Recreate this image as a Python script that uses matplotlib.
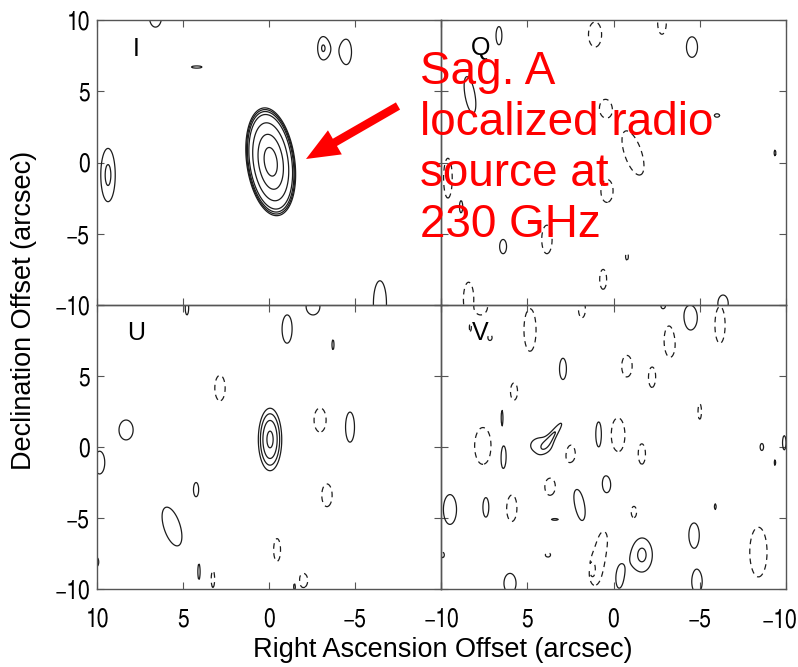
import numpy as np
import matplotlib
matplotlib.use("Agg")
import matplotlib.pyplot as plt

plt.rcParams['font.family'] = ['Liberation Sans', 'DejaVu Sans']
plt.rcParams['lines.dashed_pattern'] = (4.5, 3.5)
TICK_FAMILY = ['TeX Gyre Heros Cn', 'Liberation Sans', 'DejaVu Sans']

# ---- data -------------------------------------------------------------
tick_values = [-10, -5, 0, 5, 10]
panel_names = ["I", "Q", "U", "V"]

# contour levels (in units of the lowest contour)
I_levels = [-1, 1, 1.15, 1.35, 1.7, 3, 5.5, 8.5]
Q_levels = [-1, 1]
U_levels = [-1, 1, 1.5, 2.2, 3.2]
V_levels = [-1, 1, 1.6]

# sources: (RA offset, Dec offset, half-width RA, half-width Dec at lowest contour, peak, tilt deg)
I_sources = [
    (-0.1, 0.05, 1.4, 3.8, 10.0, 6),
    (9.36, -0.88, 0.42, 1.87, 1.18, 0),
    (6.6, 10.2, 0.35, 0.7, 1.1, 0),
    (4.2, 6.7, 0.3, 0.08, 1.1, 0),
    (-3.08, 8.03, 0.23, 0.64, 1.1, 0),
    (-4.53, 7.75, 0.26, 0.8, 1.1, 0),
    (-6.45, -9.9, 0.38, 1.6, 1.1, 0),
]
Q_sources = [
    (6.64, 8.9, 0.17, 0.64, 1.4, 0),
    (1.07, 8.98, 0.38, 0.88, -1.4, 0),
    (-2.81, 9.8, 0.25, 0.8, -1.4, 0),
    (-4.55, 8.1, 0.32, 0.72, 1.4, 0),
    (8.32, 4.74, 0.29, 1.3, 1.4, 8),
    (0.49, 3.8, 0.3, 0.55, -1.4, 0),
    (-6.0, 3.3, 0.15, 0.12, 1.3, 0),
    (-1.13, 0.67, 0.5, 1.6, -1.4, 15),
    (-9.36, 0.67, 0.05, 0.2, 1.3, 0),
    (9.6, -1.1, 0.25, 1.4, -1.4, 0),
    (0.38, -2.0, 0.35, 0.8, -1.4, 0),
    (8.84, -3.1, 0.1, 0.45, 1.4, 0),
    (3.86, -5.4, 0.3, 1.0, -1.4, 0),
    (6.4, -5.9, 0.2, 0.5, 1.4, 0),
    (-0.78, -6.6, 0.08, 0.25, -1.4, 0),
    (0.6, -8.2, 0.2, 0.7, -1.4, 0),
    (8.4, -9.6, 0.3, 1.2, -1.4, 0),
    (-6.35, -9.9, 0.3, 0.6, 1.4, 0),
]
U_sources = [
    (-0.06, 0.53, 0.68, 2.2, 3.5, 0),
    (-1.05, 8.3, 0.29, 0.99, 1.4, 0),
    (-3.72, 7.2, 0.06, 0.35, 1.4, 0),
    (2.85, 4.15, 0.3, 0.9, -1.4, 0),
    (8.31, 1.2, 0.41, 0.7, 1.4, 0),
    (-2.97, 1.9, 0.35, 0.85, -1.4, 0),
    (-4.71, 1.4, 0.26, 1.06, 1.4, 0),
    (9.85, -1.1, 0.3, 0.8, 1.4, 0),
    (4.24, -3.0, 0.15, 0.5, 1.4, 0),
    (-3.37, -3.4, 0.3, 0.8, -1.4, 0),
    (5.64, -5.6, 0.48, 1.4, 1.4, 14),
    (-0.47, -7.25, 0.2, 0.8, -1.4, 0),
    (10.0, -8.1, 0.1, 0.3, 1.4, 0),
    (4.07, -8.8, 0.06, 0.5, 1.4, 0),
    (3.26, -9.3, 0.1, 0.6, -1.4, 0),
    (-2.0, -9.4, 0.25, 0.5, -1.4, 0),
    (-1.5, -9.8, 0.1, 0.4, 1.4, 0),
    (4.77, 9.8, 0.1, 0.5, 1.4, 0),
    (-2.56, 9.9, 0.4, 0.6, 1.4, 0),
]
V_sources = [
    (7.7, 9.9, 0.4, 0.6, -1.4, 0),
    (8.3, 8.4, 0.05, 0.25, -1.4, 0),
    (7.16, 7.7, 0.12, 0.2, -1.4, 0),
    (4.84, 8.24, 0.35, 1.5, -1.4, 0),
    (1.83, 9.7, 0.2, 0.6, -1.4, 0),
    (-2.9, 9.9, 0.2, 0.3, 1.4, 0),
    (-4.43, 9.1, 0.43, 0.9, 1.4, 0),
    (-6.17, 8.6, 0.3, 1.3, -1.4, 0),
    (-3.28, 7.5, 0.35, 1.2, -1.4, 0),
    (2.93, 5.5, 0.2, 0.75, 1.4, 0),
    (-0.78, 5.7, 0.3, 0.75, -1.4, 0),
    (-2.23, 4.9, 0.2, 0.7, -1.4, 0),
    (5.77, 3.9, 0.2, 0.6, -1.4, 0),
    (6.46, 2.1, 0.05, 0.5, 1.4, 0),
    (-5.0, 2.5, 0.1, 0.55, -1.4, 0),
    (7.57, 0.07, 0.48, 1.3, -1.4, 0),
    (6.4, -0.7, 0.2, 1.05, 1.4, 0),
    (4.2, 0.1, 0.6, 0.55, 1.4, 0),
    (3.35, 1.1, 0.15, 0.7, 1.4, -30),
    (2.52, -0.56, 0.35, 0.85, -1.4, 0),
    (0.84, 0.9, 0.2, 1.0, 1.4, 0),
    (-0.26, 0.85, 0.4, 1.2, -1.4, 0),
    (-1.65, -0.5, 0.2, 0.7, -1.4, 0),
    (-8.6, 0.0, 0.1, 0.25, 1.4, 0),
    (-9.36, -1.1, 0.04, 0.2, 1.4, 0),
    (-9.9, 0.3, 0.1, 0.5, 1.4, 0),
    (3.68, -2.8, 0.3, 0.6, -1.4, 0),
    (0.38, -2.7, 0.32, 0.85, 1.4, 0),
    (9.48, -4.4, 0.38, 1.05, 1.4, 0),
    (7.4, -4.2, 0.18, 0.75, 1.4, 0),
    (5.9, -4.3, 0.3, 0.95, -1.4, 0),
    (3.4, -5.1, 0.2, 0.06, 1.4, 0),
    (1.94, -4.15, 0.3, 1.3, 1.4, 10),
    (-1.19, -4.6, 0.15, 0.4, -1.4, 0),
    (-5.9, -4.2, 0.05, 0.2, 1.4, 0),
    (-4.67, -6.2, 0.3, 0.85, 1.4, 0),
    (-8.4, -7.4, 0.5, 1.75, -1.4, 0),
    (0.8, -7.8, 0.58, 2.0, -1.4, -8),
    (-1.65, -7.6, 0.6, 1.2, 1.75, 0),
    (1.94, -8.3, 0.1, 0.85, 1.4, 0),
    (1.19, -8.6, 0.06, 0.2, 1.4, 0),
    (-0.26, -9.0, 0.35, 1.2, 1.4, 0),
    (-4.84, -9.5, 0.3, 0.8, 1.4, 0),
    (3.8, -7.6, 0.15, 0.15, -1.4, 0),
    (9.9, -7.6, 0.1, 0.2, -1.4, 0),
    (6.0, -9.6, 0.35, 0.7, 1.4, 0),
]

annotation_text = "Sag. A\nlocalized radio\nsource at\n230 GHz"
x_label = "Right Ascension Offset (arcsec)"
y_label = "Declination Offset (arcsec)"

# ---- model field --------------------------------------------------------
grid = np.linspace(-10.5, 10.5, 421)
X, Y = np.meshgrid(grid, grid)


def field(sources):
    Z = np.zeros_like(X)
    for x0, y0, rx, ry, pk, ang in sources:
        k = np.sqrt(2 * np.log(abs(pk)))
        sx, sy = rx / k, ry / k
        t = np.deg2rad(ang)
        dx, dy = X - x0, Y - y0
        xr = dx * np.cos(t) - dy * np.sin(t)
        yr = dx * np.sin(t) + dy * np.cos(t)
        Z += pk * np.exp(-0.5 * ((xr / sx) ** 2 + (yr / sy) ** 2))
    return Z


panels = {
    "I": (I_sources, I_levels),
    "Q": (Q_sources, Q_levels),
    "U": (U_sources, U_levels),
    "V": (V_sources, V_levels),
}

# ---- figure ---------------------------------------------------------------
W, H = 798, 667
fig = plt.figure(figsize=(W / 100, H / 100), dpi=100)

left, mid_x, right = 97, 441, 786
top, mid_y, bottom = 20, 305, 589
boxes = {
    "I": (left, top, mid_x, mid_y),
    "Q": (mid_x, top, right, mid_y),
    "U": (left, mid_y, mid_x, bottom),
    "V": (mid_x, mid_y, right, bottom),
}

line_col = "#1c1c1c"
spine_col = "#555555"
tick_fs = 18.5

for name in panel_names:
    x0, y0, x1, y1 = boxes[name]
    ax = fig.add_axes([x0 / W, 1 - y1 / H, (x1 - x0) / W, (y1 - y0) / H])
    src, lev = panels[name]
    Z = field(src)
    neg = [l for l in lev if l < 0]
    pos = [l for l in lev if l > 0]
    ax.contour(X, Y, Z, levels=neg, colors=line_col, linewidths=0.9, linestyles="dashed")
    ax.contour(X, Y, Z, levels=pos, colors=line_col, linewidths=0.9, linestyles="solid")
    ax.set_xlim(10, -10)
    ax.set_ylim(-10, 10)
    ax.set_xticks(tick_values)
    ax.set_yticks(tick_values)
    ax.tick_params(direction="in", length=5, width=0.8, color=spine_col,
                   top=True, right=True)
    ax.tick_params(axis="x", pad=13)
    ax.tick_params(axis="y", pad=5)
    for s in ax.spines.values():
        s.set_color(spine_col)
        s.set_linewidth(1.0)
    lbls = ["\u2212" + str(-v) if v < 0 else str(v) for v in tick_values]
    if name in ("I", "U"):
        yl = list(lbls)
        if name == "U":
            yl[-1] = ""
        ax.set_yticklabels(yl, family=TICK_FAMILY, fontsize=tick_fs)
    else:
        ax.set_yticklabels([])
    if name in ("U", "V"):
        xl = list(lbls)
        if name == "V":
            xl[-1] = ""
            # the right-most label sits flush with the figure edge
            xl[0] = ""
            fig.text(797 / W, 1 - 627.5 / H, lbls[0], ha="right", va="baseline",
                     family=TICK_FAMILY, fontsize=tick_fs)
        ax.set_xticklabels(xl, family=TICK_FAMILY, fontsize=tick_fs)
    else:
        ax.set_xticklabels([])
    ax.text(7.7, 8.0, name, ha="center", va="center", fontsize=18, color="black")
    ax.set_facecolor("none")

fig.text(443 / W, 1 - 650 / H, x_label, ha="center", va="center", fontsize=19.5)
fig.text(24 / W, 1 - 310 / H, y_label, ha="center", va="center", rotation=90, fontsize=19.5)

fig.text(420 / W, 1 - 237 / H, annotation_text, ha="left", va="baseline",
         fontsize=33, color="#ff0000", linespacing=1.21, zorder=10)

fig.add_artist(plt.Annotation("", xy=(306, H - 159), xycoords="figure pixels",
                              xytext=(398, H - 106), textcoords="figure pixels",
                              arrowprops=dict(width=6.0, headwidth=20, headlength=24,
                                              shrink=0, color="#ff0000", lw=0)))

fig.savefig("out.png", dpi=100)
